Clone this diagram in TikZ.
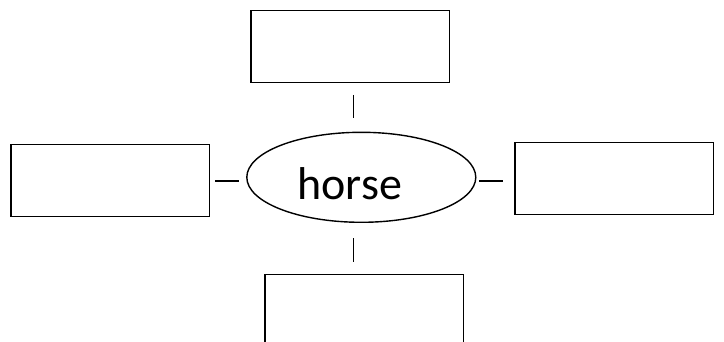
\documentclass[tikz,border=0pt]{standalone}
\usepackage{fontspec}
\setmainfont{Carlito}
\usetikzlibrary{shapes.geometric,calc}

\begin{document}
\begin{tikzpicture}[
    x=1pt, y=-1pt,
    box/.style={rectangle, draw, line width=1.5pt, minimum width=198.5pt, minimum height=72pt, inner sep=0pt, outer sep=0pt},
    hub/.style={ellipse, draw, line width=1.4pt, minimum width=229pt, minimum height=90pt, inner sep=0pt, outer sep=0pt},
    link/.style={line width=1.4pt}
]
    \clip (0,0) rectangle (724,342);

    % Centre
    \node[hub] (horse) at (361.3,177.3) {};
    \node[font=\fontsize{46}{55}\selectfont, inner sep=0pt] (horsetext) at (349.7,184) {horse};

    % Surrounding boxes
    \node[box] (top) at (350.2,46.3) {};
    \node[box] (left) at (110.2,180.5) {};
    \node[box] (right) at (614.2,178.5) {};
    \node[box] (bottom) at (364.2,310.3) {};

    % Connectors
    \coordinate (vaxis) at (353.3,0);
    \coordinate (haxis) at (0,181);
    \draw[link, shorten <=12.7pt, shorten >=14.3pt] (top.south -| vaxis) -- (horse.north -| vaxis);
    \draw[link, shorten <=16pt, shorten >=12pt] (horse.south -| vaxis) -- (bottom.north -| vaxis);
    \draw[link, shorten <=5.7pt, shorten >=7.7pt] (left.east |- haxis) -- (horse.west |- haxis);
    \draw[link, shorten <=3.3pt, shorten >=11.7pt] (horse.east |- haxis) -- (right.west |- haxis);
\end{tikzpicture}
\end{document}
